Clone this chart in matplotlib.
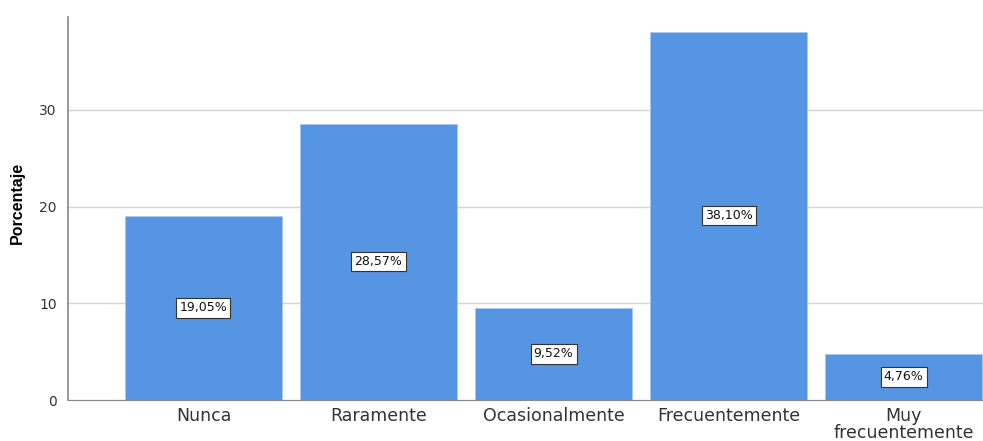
import matplotlib.pyplot as plt

categorias = ['Nunca', 'Raramente', 'Ocasionalmente', 'Frecuentemente', 'Muy\nfrecuentemente']
porcentajes = [19.05, 28.57, 9.52, 38.10, 4.76]
etiquetas = ['19,05%', '28,57%', '9,52%', '38,10%', '4,76%']
yticks = [0, 10, 20, 30]

fig = plt.figure(figsize=(9.83, 4.41), dpi=100)
ax = fig.add_axes([68 / 983, 1 - 400 / 441, 1 - 68 / 983, (400 - 17) / 441])

x = list(range(len(categorias)))
ax.bar(x, porcentajes, width=0.9, color='#5694e4', edgecolor='#a9c8f0', linewidth=0.6, zorder=2)

for xi, v, t in zip(x, porcentajes, etiquetas):
    ax.text(xi, v / 2, t, ha='center', va='center', fontsize=9, color='#111111', zorder=3,
            bbox=dict(boxstyle='square,pad=0.25', facecolor='white', edgecolor='#333333', linewidth=0.8))

ax.set_xlim(-0.774, 4.454)
ax.set_ylim(0, 39.6)
ax.set_yticks(yticks)
ax.set_xticks(x)
ax.set_xticklabels(categorias, fontsize=12.5, color='#333333', linespacing=0.95)
ax.tick_params(axis='both', length=0)
ax.tick_params(axis='y', labelsize=10, pad=8, labelcolor='#333333')
ax.tick_params(axis='x', pad=5)
ax.yaxis.grid(True, color='#d4d4d4', linewidth=1, zorder=0)
ax.set_axisbelow(True)

for s in ['top', 'right']:
    ax.spines[s].set_visible(False)
ax.spines['left'].set_color('#888888')
ax.spines['bottom'].set_color('#888888')
ax.spines['left'].set_linewidth(1.2)

ax.set_ylabel('Porcentaje', fontsize=11.5, fontweight='bold', family=['Liberation Sans', 'DejaVu Sans'])
ax.yaxis.set_label_coords(-0.047, 0.515)

fig.savefig('out.png', dpi=100)
